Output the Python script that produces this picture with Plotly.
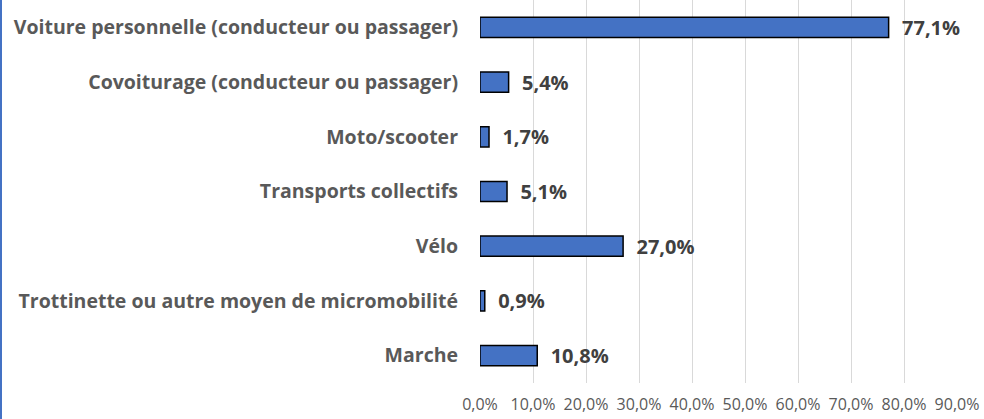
import plotly.graph_objects as go

categories = [
    "Voiture personnelle (conducteur ou passager)",
    "Covoiturage (conducteur ou passager)",
    "Moto/scooter",
    "Transports collectifs",
    "Vélo",
    "Trottinette ou autre moyen de micromobilité",
    "Marche",
]
values = [77.1, 5.4, 1.7, 5.1, 27.0, 0.9, 10.8]
tick_values = [0, 10, 20, 30, 40, 50, 60, 70, 80, 90]
tick_labels = [f"{v:.1f}%".replace(".", ",") for v in tick_values]
value_labels = [f"{v:.1f}%".replace(".", ",") for v in values]

fig = go.Figure(go.Bar(
    x=values, y=categories, orientation="h",
    marker=dict(color="#4472C4", line=dict(color="#000000", width=1.5)),
    width=0.37,
    text=value_labels, textposition="outside", cliponaxis=False,
    constraintext="none",
    texttemplate="  %{text}",
    textfont=dict(family="Open Sans", size=20, color="#404040", weight="bold"),
))

W, H = 984, 419
ml, mr, mt, mb = 480, 27, 0, 36
fig.update_layout(
    width=W, height=H,
    margin=dict(l=ml, r=mr, t=mt, b=mb, autoexpand=False),
    plot_bgcolor="white", paper_bgcolor="white",
    showlegend=False,
    xaxis=dict(range=[0, 90], tickvals=tick_values, ticktext=tick_labels,
               showgrid=True, gridcolor="#D9D9D9", gridwidth=1,
               zeroline=False, showline=False, automargin=False,
               tickfont=dict(family="Open Sans", size=16, color="#595959"),
               ticklabelstandoff=10),
    yaxis=dict(autorange="reversed", showgrid=False, zeroline=False, automargin=False,
               tickfont=dict(family="Open Sans", size=19.5, color="#595959", weight="bold"),
               ticklabelstandoff=21),
    shapes=[dict(type="line", xref="paper", yref="paper",
                 x0=(1 - ml) / (W - ml - mr), x1=(1 - ml) / (W - ml - mr),
                 y0=-mb / (H - mt - mb), y1=1,
                 line=dict(color="#4472C4", width=2))],
)
fig.write_html("out.html", config={"displayModeBar": False},
               post_script="document.body.style.margin='0';document.body.style.overflow='hidden';")
